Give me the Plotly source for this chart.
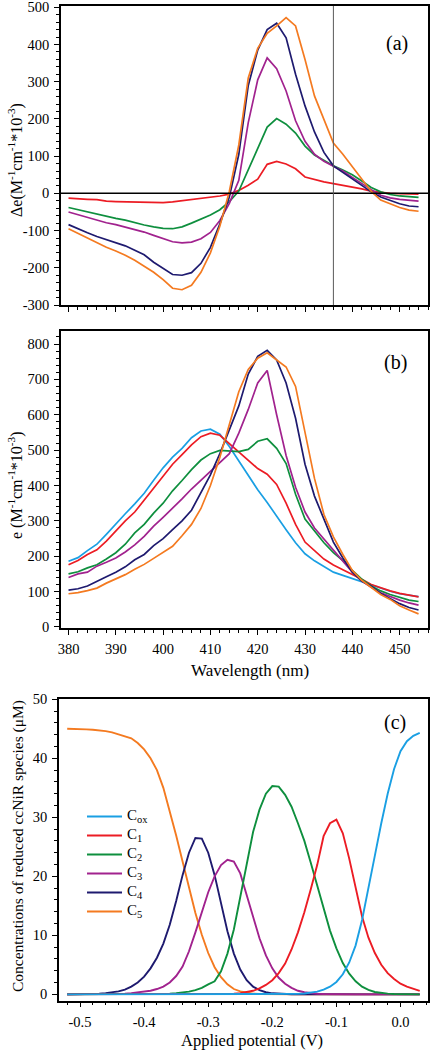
import plotly.graph_objects as go

# ---------------- data ----------------
wavelength = [380, 382, 384, 386, 388, 390, 392, 394, 396, 398, 400, 402, 404, 406, 408, 410, 412, 414, 416,
              418, 420, 422, 424, 426, 428, 430, 432, 434, 436, 438, 440, 442, 444, 446, 448, 450, 452, 454]

# panel (a): CD difference spectra
cd_c1 = [-13, -15, -16, -17, -21, -22, -23, -24, -25, -26, -25, -23, -20, -17, -14, -11, -7, -2, 8,
         22, 38, 78, 86, 79, 66, 44, 37, 31, 26, 22, 18, 12, 6, 2, 0, -1, -2, -2]
cd_c2 = [-38, -44, -50, -56, -62, -67, -72, -79, -85, -90, -94, -95, -90, -80, -70, -58, -44, -22, 6,
         64, 125, 178, 201, 186, 162, 127, 103, 89, 74, 63, 50, 33, 16, 4, -3, -7, -10, -11]
cd_c3 = [-50, -57, -64, -73, -79, -84, -90, -97, -104, -113, -122, -130, -133, -131, -122, -105, -73, -27, 35,
         190, 305, 364, 335, 275, 195, 140, 105, 86, 73, 60, 43, 26, 10, -5, -12, -16, -19, -21]
cd_c4 = [-84, -96, -106, -116, -124, -133, -141, -153, -165, -185, -202, -218, -220, -213, -188, -145, -82, -10, 105,
         290, 385, 440, 457, 418, 320, 235, 165, 110, 74, 56, 38, 20, 4, -10, -20, -28, -34, -36]
cd_c5 = [-95, -108, -120, -132, -145, -155, -166, -180, -195, -212, -232, -255, -259, -247, -212, -160, -88, 5, 130,
         310, 390, 430, 450, 472, 450, 360, 262, 200, 135, 105, 72, 38, 5, -18, -28, -38, -45, -48]

# panel (b): absorption spectra
abs_cox = [186, 196, 216, 234, 262, 292, 320, 348, 378, 415, 450, 480, 505, 535, 554, 559, 545, 510, 470,
           430, 388, 352, 312, 275, 238, 207, 187, 170, 155, 146, 137, 127, 118, 108, 101, 94, 90, 86]
abs_c1 = [176, 188, 205, 218, 243, 272, 300, 325, 358, 392, 425, 460, 487, 515, 538, 548, 542, 518, 495,
          470, 448, 432, 403, 350, 290, 240, 215, 192, 175, 162, 150, 135, 120, 110, 102, 95, 90, 85]
abs_c2 = [150, 156, 167, 176, 192, 210, 234, 266, 290, 322, 350, 385, 414, 445, 472, 490, 499, 498, 496,
          502, 525, 532, 505, 462, 375, 305, 272, 238, 210, 188, 160, 135, 116, 102, 92, 83, 76, 72]
abs_c3 = [140, 150, 155, 172, 183, 195, 212, 232, 256, 285, 310, 335, 362, 390, 415, 440, 465, 490, 548,
          615, 690, 725, 600, 485, 395, 325, 280, 248, 218, 185, 155, 130, 112, 97, 86, 76, 68, 62]
abs_c4 = [104, 108, 116, 128, 142, 155, 170, 190, 205, 230, 250, 275, 300, 330, 380, 430, 490, 555, 625,
          715, 765, 782, 755, 690, 590, 460, 370, 305, 240, 195, 155, 130, 115, 95, 80, 66, 55, 48]
abs_c5 = [94, 97, 103, 110, 124, 135, 148, 163, 177, 194, 210, 228, 258, 290, 335, 400, 480, 575, 665,
          728, 760, 775, 755, 735, 680, 545, 420, 318, 255, 205, 160, 132, 112, 92, 78, 60, 48, 37]

# panel (c): speciation vs applied potential
potential = [-0.52, -0.51, -0.50, -0.49, -0.48, -0.47, -0.46, -0.45, -0.44, -0.43, -0.42, -0.41, -0.40, -0.39,
             -0.38, -0.37, -0.36, -0.35, -0.34, -0.33, -0.32, -0.31, -0.30, -0.29, -0.28, -0.27, -0.26, -0.25,
             -0.24, -0.23, -0.22, -0.21, -0.20, -0.19, -0.18, -0.17, -0.16, -0.15, -0.14, -0.13, -0.12, -0.11,
             -0.10, -0.09, -0.08, -0.07, -0.06, -0.05, -0.04, -0.03, -0.02, -0.01, 0.00, 0.01, 0.02, 0.03]
conc_c5 = [45.0, 45.0, 44.95, 44.9, 44.85, 44.75, 44.6, 44.4, 44.1, 43.8, 43.4, 42.6, 41.5, 40.0,
           38.0, 35.0, 31.0, 26.9, 22.5, 18.0, 13.8, 10.1, 7.0, 4.6, 2.9, 1.7, 0.9, 0.5,
           0.25, 0.12, 0.06, 0.03, 0.01, 0, 0, 0, 0, 0, 0, 0, 0, 0,
           0, 0, 0, 0, 0, 0, 0, 0, 0, 0, 0, 0, 0, 0]
conc_c4 = [0.0, 0.01, 0.02, 0.03, 0.06, 0.1, 0.2, 0.3, 0.5, 0.8, 1.3, 2.0, 3.0, 4.4,
           6.2, 8.6, 11.8, 15.8, 20.2, 24.0, 26.5, 26.4, 24.0, 20.2, 15.3, 10.7, 6.9, 4.2,
           2.4, 1.3, 0.7, 0.35, 0.17, 0.08, 0.04, 0.02, 0.01, 0, 0, 0, 0, 0,
           0, 0, 0, 0, 0, 0, 0, 0, 0, 0, 0, 0, 0, 0]
conc_c3 = [0, 0, 0, 0, 0.01, 0.02, 0.03, 0.05, 0.08, 0.12, 0.2, 0.3, 0.4, 0.6,
           0.9, 1.3, 2.0, 3.1, 4.7, 7.3, 10.5, 14.0, 17.3, 20.0, 21.9, 22.8, 22.5, 20.5,
           16.8, 12.9, 9.5, 6.6, 4.4, 2.8, 1.8, 1.1, 0.6, 0.35, 0.2, 0.1, 0.05, 0.02,
           0.01, 0, 0, 0, 0, 0, 0, 0, 0, 0, 0, 0, 0, 0]
conc_c2 = [0, 0, 0, 0, 0, 0, 0, 0, 0, 0, 0.01, 0.01, 0.02, 0.03,
           0.05, 0.08, 0.12, 0.2, 0.3, 0.45, 0.7, 1.1, 1.7, 2.2, 3.9, 6.9, 11.0, 16.5,
           22.3, 27.5, 31.3, 34.0, 35.3, 35.2, 33.8, 31.8, 29.0, 26.0, 22.3, 18.5, 14.5, 10.8,
           7.8, 5.3, 3.5, 2.2, 1.3, 0.75, 0.4, 0.22, 0.12, 0.06, 0.03, 0.02, 0.01, 0]
conc_c1 = [0, 0, 0, 0, 0, 0, 0, 0, 0, 0, 0, 0, 0, 0,
           0, 0, 0, 0, 0, 0, 0, 0, 0.01, 0.02, 0.04, 0.07, 0.12, 0.2,
           0.35, 0.6, 1.0, 1.6, 2.4, 3.6, 5.2, 7.6, 10.5, 13.9, 17.8, 21.9, 26.8, 29.0,
           29.6, 27.3, 23.0, 17.8, 13.2, 9.6, 7.0, 5.0, 3.6, 2.6, 1.8, 1.3, 0.9, 0.6]
conc_cox = [0, 0, 0, 0, 0, 0, 0, 0, 0, 0, 0, 0, 0, 0,
            0, 0, 0, 0, 0, 0, 0, 0, 0, 0, 0, 0, 0, 0,
            0, 0, 0, 0, 0, 0.01, 0.02, 0.04, 0.08, 0.14, 0.25, 0.45, 0.8, 1.3,
            2.1, 3.4, 5.4, 8.3, 12.6, 17.8, 23.5, 29.0, 34.0, 38.2, 41.2, 42.9, 43.8, 44.3]

# tick values / labels
wl_ticks = [380, 390, 400, 410, 420, 430, 440, 450]
wl_labels = ["380", "390", "400", "410", "420", "430", "440", "450"]
cd_ticks = [-300, -200, -100, 0, 100, 200, 300, 400, 500]
cd_labels = ["-300", "-200", "-100", "0", "100", "200", "300", "400", "500"]
abs_ticks = [0, 100, 200, 300, 400, 500, 600, 700, 800]
abs_labels = ["0", "100", "200", "300", "400", "500", "600", "700", "800"]
pot_ticks = [-0.5, -0.4, -0.3, -0.2, -0.1, 0.0]
pot_labels = ["-0.5", "-0.4", "-0.3", "-0.2", "-0.1", "0.0"]
conc_ticks = [0, 10, 20, 30, 40, 50]
conc_labels = ["0", "10", "20", "30", "40", "50"]

species_names = ["C<sub>ox</sub>", "C<sub>1</sub>", "C<sub>2</sub>", "C<sub>3</sub>", "C<sub>4</sub>", "C<sub>5</sub>"]

# ---------------- styling ----------------
FONT = "Liberation Serif"
COL = {"cox": "#1a9fe3", "c1": "#ec1c24", "c2": "#0e8f3e", "c3": "#a1228e", "c4": "#1e1a6f", "c5": "#f47a20"}
W, H = 431, 1050

fig = go.Figure()


def add(xs, ys, color, xa, ya, name=None, show=False, width=1.7):
    fig.add_trace(go.Scatter(x=xs, y=ys, mode="lines", name=name, showlegend=show,
                             line=dict(color=color, width=width),
                             xaxis=xa, yaxis=ya, hoverinfo="skip"))


# panel a
for ys, c in [(cd_c1, "c1"), (cd_c2, "c2"), (cd_c3, "c3"), (cd_c4, "c4"), (cd_c5, "c5")]:
    add(wavelength, ys, COL[c], "x", "y")
# panel b
for ys, c in [(abs_cox, "cox"), (abs_c1, "c1"), (abs_c2, "c2"), (abs_c3, "c3"), (abs_c4, "c4"), (abs_c5, "c5")]:
    add(wavelength, ys, COL[c], "x2", "y2")
# panel c (drawn C5 first so Cox is on top; legend reversed)
for ys, c, nm in [(conc_c5, "c5", species_names[5]), (conc_c4, "c4", species_names[4]),
                  (conc_c3, "c3", species_names[3]), (conc_c2, "c2", species_names[2]),
                  (conc_c1, "c1", species_names[1]), (conc_cox, "cox", species_names[0])]:
    add(potential, ys, COL[c], "x3", "y3",
        name='<span style="font-size:15px">' + nm + '</span>', show=True, width=1.9)

tickfont = dict(family=FONT, size=14.5, color="black")


def base_axis(dom, rng, tv, tt, mdt, mt0, anchor, showlabels=True):
    return dict(domain=dom, range=rng, anchor=anchor, tickmode="array", tickvals=tv, ticktext=tt,
                showticklabels=showlabels, ticks="outside", ticklen=5, tickwidth=1.2, tickcolor="black",
                minor=dict(ticks="outside", ticklen=3, tickwidth=1, tickcolor="black", dtick=mdt, tick0=mt0,
                           showgrid=False),
                showline=True, linecolor="black", linewidth=1.5, mirror=True,
                showgrid=False, zeroline=False, tickfont=tickfont, automargin=False, fixedrange=True,
                ticklabelstandoff=2, ticklabeloverflow="allow")


def mirror_axis(over, rng, tv, mdt, mt0, anchor, side):
    return dict(overlaying=over, range=rng, anchor=anchor, side=side, tickmode="array", tickvals=tv,
                showticklabels=False, ticks="inside", ticklen=5, tickwidth=1.2, tickcolor="black",
                minor=dict(ticks="inside", ticklen=3, tickwidth=1, tickcolor="black", dtick=mdt, tick0=mt0,
                           showgrid=False),
                showline=False, showgrid=False, zeroline=False, automargin=False, fixedrange=True)


XD_AB = [61 / W, 428 / W]
XD_C = [59 / W, 428 / W]
YD_A = [1 - 305 / H, 1 - 6 / H]
YD_B = [1 - 628.3 / H, 1 - 330.7 / H]
YD_C = [1 - 1000.7 / H, 1 - 699.3 / H]
XR_AB = [378.41, 456.0]
XR_C = [-0.5328, 0.0429]
YR_A = [-300, 503.5]
YR_B = [-3.7, 837.6]
YR_C = [-1.08, 50]

fig.update_layout(
    width=W, height=H, margin=dict(l=0, r=0, t=0, b=0),
    paper_bgcolor="white", plot_bgcolor="white",
    font=dict(family=FONT, color="black"),
    xaxis=base_axis(XD_AB, XR_AB, wl_ticks, wl_labels, 2, 380, "y", showlabels=False),
    yaxis=base_axis(YD_A, YR_A, cd_ticks, cd_labels, 20, 0, "x"),
    xaxis2=base_axis(XD_AB, XR_AB, wl_ticks, wl_labels, 2, 380, "y2"),
    yaxis2=base_axis(YD_B, YR_B, abs_ticks, abs_labels, 20, 0, "x2"),
    xaxis3=base_axis(XD_C, XR_C, pot_ticks, pot_labels, 0.02, 0, "y3"),
    yaxis3=base_axis(YD_C, YR_C, conc_ticks, conc_labels, 2, 0, "x3"),
    xaxis4=mirror_axis("x", XR_AB, wl_ticks, 2, 380, "y", "top"),
    yaxis4=mirror_axis("y", YR_A, cd_ticks, 20, 0, "x", "right"),
    xaxis5=mirror_axis("x2", XR_AB, wl_ticks, 2, 380, "y2", "top"),
    yaxis5=mirror_axis("y2", YR_B, abs_ticks, 20, 0, "x2", "right"),
    xaxis6=mirror_axis("x3", XR_C, pot_ticks, 0.02, 0, "y3", "top"),
    yaxis6=mirror_axis("y3", YR_C, conc_ticks, 2, 0, "x3", "right"),
    legend=dict(x=82 / W, y=1 - 802 / H, xanchor="left", yanchor="top", traceorder="reversed",
                font=dict(family=FONT, size=8.2, color="black"), bgcolor="rgba(0,0,0,0)",
                tracegroupgap=0, itemwidth=35),
    showlegend=True,
)

# reference lines in panel (a)
fig.add_shape(type="line", xref="x domain", yref="y", x0=0, x1=1, y0=0, y1=0,
              line=dict(color="black", width=1.5))
fig.add_shape(type="line", xref="x", yref="y domain", x0=436, x1=436, y0=0, y1=1,
              line=dict(color="#5a5a5a", width=1))


def ann(text, x, y, size, angle=0):
    fig.add_annotation(text=text, x=x / W, y=1 - y / H, xref="paper", yref="paper", showarrow=False,
                       xanchor="center", yanchor="middle", textangle=angle,
                       font=dict(family=FONT, size=size, color="black"))


ann("(a)", 397, 43, 20)
ann("(b)", 395, 362, 20)
ann("(c)", 395, 722, 20)
ann("Δe(M<sup>-1</sup>cm<sup>-1</sup>*10<sup>-3</sup>)", 15, 160, 16, -90)
ann("e (M<sup>-1</sup>cm<sup>-1</sup>*10<sup>-3</sup>)", 15, 485, 16, -90)
ann("Concentrations of reduced ccNiR species (μM)", 18, 846, 15.5, -90)
ann("Wavelength (nm)", 250, 670, 17)
ann("Applied potential (V)", 252, 1040, 16.5)

fig.write_html("out.html", config={"displayModeBar": False},
               post_script="document.body.style.margin='0px';")
